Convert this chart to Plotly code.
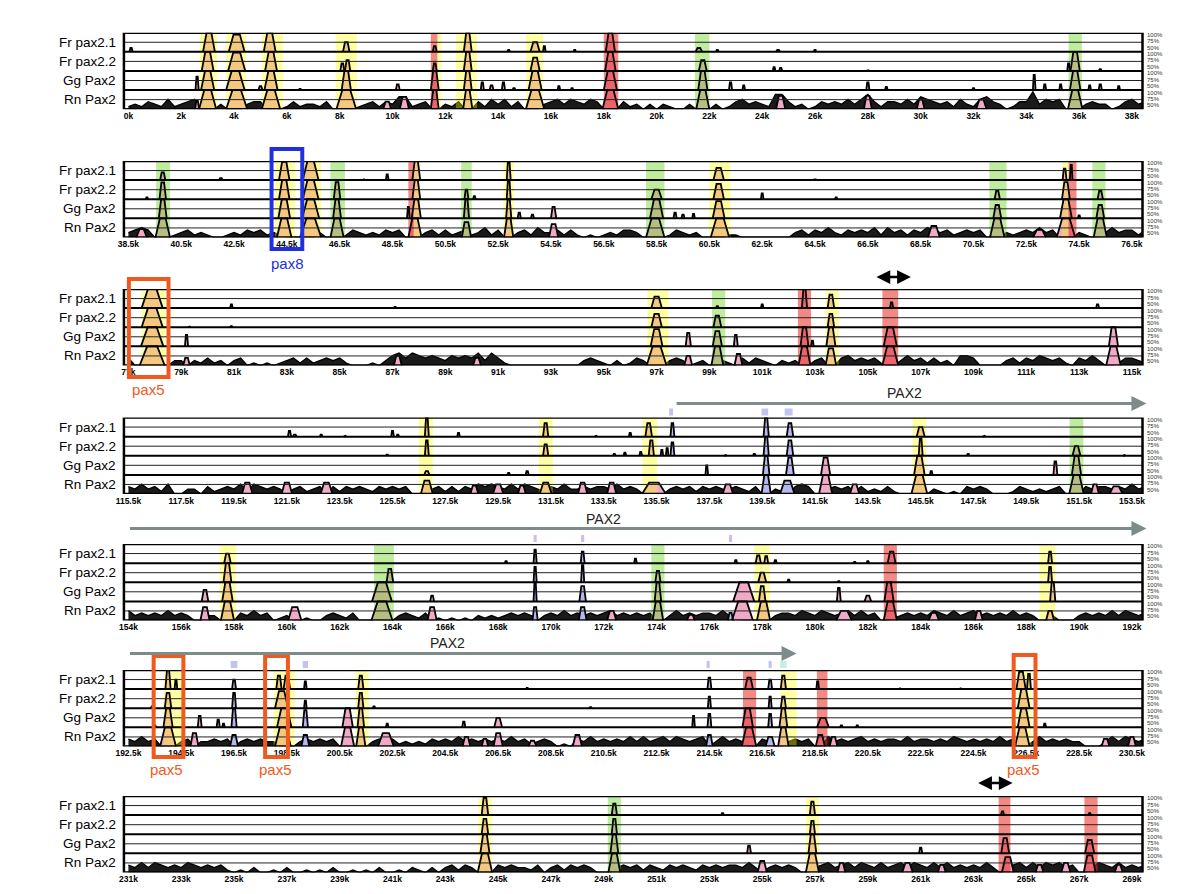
import plotly.graph_objects as go

W, H = 1200, 894

track_names = ["Fr pax2.1", "Fr pax2.2", "Gg Pax2", "Rn Pax2"]
panel_starts = [0, 38.5, 77, 115.5, 154, 192.5, 231]

# conserved peaks per track: (centre kb, width kb, height %)
fr21_1 = [(0.1, .12, 60), (3.05, .45, 100), (4.1, .6, 95), (5.35, .45, 100), (8.25, .25, 75), (11.6, .15, 65),
          (12.85, .3, 100), (14.4, .1, 55), (15.4, .35, 75), (15.75, .1, 65), (16.9, .1, 55), (18.25, .35, 100),
          (21.6, .25, 60), (22.3, .1, 55), (24.6, .15, 55), (26.0, .1, 55)]
fr22_1 = [(3.0, .45, 100), (4.1, .65, 98), (5.4, .45, 100), (8.1, .15, 70), (8.3, .2, 78), (11.6, .15, 70),
          (12.85, .3, 100), (15.4, .35, 85), (18.25, .4, 100), (21.75, .3, 78), (24.45, .1, 60), (24.7, .12, 58),
          (28.0, .1, 52), (35.6, .1, 70), (35.85, .35, 100), (36.8, .1, 55)]
gg_1 = [(2.6, .12, 85), (3.0, .5, 100), (4.05, .7, 100), (5.0, .15, 60), (5.4, .5, 100), (6.5, .1, 53),
        (8.25, .35, 100), (10.2, .15, 65), (11.6, .3, 100), (12.85, .3, 100), (13.4, .12, 70), (13.75, .15, 62),
        (14.2, .12, 70), (14.6, .12, 55), (15.4, .5, 100), (16.3, .1, 60), (16.8, .1, 55), (18.25, .5, 100),
        (21.75, .35, 100), (22.8, .12, 70), (23.3, .1, 62), (28.0, .12, 70), (28.7, .1, 58), (32.0, .1, 55),
        (34.3, .1, 90), (34.7, .1, 65), (35.3, .1, 65), (35.85, .4, 100), (36.4, .1, 62), (36.8, .12, 65),
        (37.5, .1, 60)]
rn_1 = [(2.6, .15, 72), (3.0, .65, 100), (4.1, .8, 100), (5.4, .7, 100), (8.25, .75, 100), (9.8, .3, 70),
        (10.45, .35, 82), (11.6, .3, 100), (12.85, .35, 100), (15.4, .7, 100), (18.25, .6, 100), (21.75, .5, 100),
        (24.7, .35, 85), (28.0, .3, 85), (30.0, .3, 75), (32.3, .4, 75), (35.85, .55, 100)]

fr21_2 = [(39.8, .2, 70), (42.0, .15, 55), (44.4, .4, 98), (45.4, .6, 100), (47.4, .1, 52), (48.3, .1, 65),
          (49.4, .3, 100), (52.9, .15, 100), (60.85, .4, 82), (64.5, .15, 52), (73.95, .15, 80), (74.2, .1, 90)]
fr22_2 = [(39.2, .1, 55), (39.8, .25, 94), (44.4, .4, 100), (45.4, .6, 100), (46.4, .25, 95), (49.4, .3, 100),
          (51.3, .15, 75), (51.6, .1, 58), (52.9, .15, 100), (58.5, .4, 75), (60.85, .4, 90), (62.5, .1, 65),
          (65.3, .1, 55), (71.4, .2, 72), (74.0, .3, 95), (75.3, .2, 72)]
gg_2 = [(39.8, .3, 100), (44.4, .45, 100), (45.4, .65, 100), (46.4, .3, 100), (49.1, .1, 80), (49.4, .35, 100),
        (51.3, .2, 100), (52.9, .2, 100), (53.3, .12, 65), (53.8, .12, 60), (54.6, .2, 80), (58.5, .5, 100),
        (59.2, .12, 65), (59.5, .12, 60), (59.9, .1, 62), (60.85, .45, 95), (71.4, .3, 85), (74.0, .45, 100),
        (74.5, .1, 58), (75.3, .3, 85)]
rn_2 = [(39.0, .4, 72), (39.8, .55, 100), (44.4, .55, 100), (45.4, .8, 100), (46.4, .5, 100), (49.35, .5, 100),
        (51.3, .35, 90), (52.9, .35, 100), (54.6, .35, 85), (58.45, .7, 100), (60.9, .7, 100), (69.0, .45, 80),
        (71.4, .55, 100), (73.0, .5, 70), (74.0, .7, 100), (75.3, .5, 100)]

fr21_3 = [(77.9, .8, 100), (80.9, .1, 60), (87.1, .1, 53), (97.0, .4, 80), (99.3, .1, 55), (101.0, .1, 60),
          (102.6, .2, 100), (103.6, .25, 85), (105.9, .12, 65), (113.7, .12, 60)]
fr22_3 = [(77.9, .8, 100), (79.3, .1, 52), (80.9, .1, 53), (97.0, .4, 85), (99.3, .3, 80), (103.6, .25, 85)]
gg_3 = [(77.9, .85, 100), (79.2, .12, 80), (97.0, .45, 95), (98.2, .2, 85), (99.3, .35, 90), (100.0, .15, 80),
        (102.6, .3, 100), (102.9, .1, 65), (103.6, .35, 100), (105.85, .5, 100), (114.3, .35, 100)]
rn_3 = [(77.9, .95, 100), (79.2, .25, 70), (87.2, .3, 75), (90.2, .3, 70), (97.0, .75, 100), (98.2, .3, 75),
        (99.3, .45, 100), (100.1, .3, 80), (102.6, .45, 100), (103.6, .4, 95), (105.85, .6, 100), (114.3, .55, 100)]

fr21_4 = [(121.6, .12, 65), (121.8, .15, 55), (122.8, .1, 55), (123.7, .1, 52), (125.5, .1, 65), (125.7, .1, 55),
          (126.8, .15, 100), (128.0, .1, 60), (131.3, .2, 85), (133.2, .1, 52), (134.5, .1, 60), (135.2, .25, 85),
          (136.1, .15, 85), (139.65, .2, 100), (140.55, .25, 85), (145.5, .3, 75), (147.9, .1, 52)]
fr22_4 = [(125.3, .1, 53), (126.8, .15, 90), (131.3, .2, 80), (133.9, .1, 55), (134.3, .1, 58), (134.9, .1, 60),
          (135.3, .2, 90), (135.7, .1, 65), (135.9, .1, 70), (136.1, .15, 85), (138.1, .1, 52), (139.2, .1, 55),
          (139.65, .2, 100), (140.55, .25, 90), (145.5, .15, 95), (147.3, .1, 55), (151.4, .3, 75), (153.2, .1, 52)]
gg_4 = [(126.8, .2, 60), (129.9, .1, 55), (130.6, .12, 60), (137.4, .1, 75), (139.65, .25, 100), (140.55, .3, 95),
        (141.9, .35, 95), (145.45, .4, 100), (145.9, .1, 60), (150.6, .15, 85), (151.4, .35, 100)]
rn_4 = [(120.0, .4, 80), (121.5, .4, 80), (123.0, .45, 80), (126.8, .45, 85), (128.6, .3, 72), (129.5, .4, 75),
        (130.4, .3, 72), (131.3, .45, 80), (132.7, .35, 80), (133.8, .35, 80), (135.4, .9, 80), (138.2, .4, 75),
        (139.65, .35, 100), (140.45, .55, 85), (141.9, .5, 100), (143.0, .35, 75), (145.45, .6, 100),
        (151.4, .55, 100), (152.1, .3, 75), (152.9, .5, 70)]

fr21_5 = [(157.75, .25, 75), (168.3, .1, 55), (169.4, .12, 85), (171.2, .15, 80), (173.2, .1, 62), (177.0, .1, 58),
          (177.85, .2, 70), (178.15, .15, 68), (178.5, .1, 58), (181.5, .1, 53), (182.0, .1, 55), (182.9, .3, 80),
          (188.9, .15, 80)]
fr22_5 = [(157.75, .3, 100), (163.9, .25, 85), (169.4, .12, 90), (171.2, .12, 95), (174.05, .2, 80), (178.0, .3, 75),
          (179.0, .1, 57), (180.9, .1, 53), (188.9, .15, 90)]
gg_5 = [(156.9, .25, 80), (157.75, .4, 100), (163.6, .75, 100), (165.5, .15, 65), (169.4, .12, 100), (171.2, .25, 90),
        (174.05, .25, 100), (177.3, .8, 100), (178.0, .25, 90), (180.9, .15, 85), (182.0, .25, 65), (182.8, .35, 100),
        (189.0, .2, 100)]
rn_5 = [(156.9, .35, 85), (157.75, .5, 100), (160.3, .5, 85), (163.6, .8, 100), (165.5, .35, 85), (169.4, .2, 85),
        (171.2, .3, 85), (172.3, .35, 75), (174.05, .4, 100), (175.3, .3, 65), (176.8, .2, 70), (177.25, .8, 100),
        (178.05, .5, 100), (181.1, .6, 75), (182.85, .5, 100), (184.5, .4, 70), (186.2, .3, 75), (188.9, .3, 75)]

fr21_6 = [(194.0, .2, 100), (194.3, .1, 75), (196.5, .15, 75), (198.2, .2, 85), (198.5, .25, 85), (199.2, .1, 70),
          (201.3, .2, 85), (207.6, .1, 53), (214.5, .15, 80), (216.0, .3, 80), (216.8, .15, 75), (217.3, .2, 85),
          (218.6, .1, 70), (221.7, .1, 52), (224.0, .1, 52), (226.3, .35, 95), (226.6, .15, 90)]
fr22_6 = [(193.4, .1, 55), (194.0, .25, 90), (196.5, .15, 90), (198.3, .5, 95), (199.2, .1, 70), (201.3, .2, 90),
          (201.8, .1, 55), (210.0, .1, 53), (214.5, .12, 80), (216.8, .12, 80), (217.3, .2, 80), (226.4, .45, 100)]
gg_6 = [(193.5, .1, 55), (194.0, .35, 100), (195.2, .15, 80), (195.9, .12, 70), (196.1, .1, 60), (196.5, .2, 100),
        (198.4, .55, 100), (199.2, .2, 95), (200.8, .4, 100), (201.3, .25, 100), (202.3, .1, 60), (205.2, .12, 65),
        (206.5, .3, 75), (213.9, .1, 80), (214.5, .15, 85), (215.95, .4, 100), (216.8, .15, 85), (217.3, .3, 100),
        (218.8, .45, 75), (219.5, .1, 55), (220.1, .1, 55), (226.4, .45, 100), (227.2, .1, 60)]
rn_6 = [(194.0, .6, 100), (195.0, .3, 85), (196.5, .3, 80), (198.35, .6, 100), (199.2, .3, 80), (200.8, .5, 100),
        (201.3, .35, 100), (202.25, .6, 85), (205.3, .3, 75), (206.0, .25, 70), (206.5, .35, 85), (207.8, .3, 65),
        (209.5, .35, 80), (214.5, .25, 80), (216.0, .55, 100), (216.8, .35, 75), (217.3, .4, 100), (218.7, .35, 80),
        (219.2, .3, 75), (226.35, .55, 100), (229.5, .3, 70), (230.5, .3, 75)]

fr21_7 = [(244.5, .25, 95), (249.4, .2, 80), (253.5, .1, 55), (256.9, .2, 85), (264.1, .12, 60), (267.4, .1, 55)]
fr22_7 = [(244.5, .25, 90), (249.4, .2, 90), (256.9, .2, 85)]
gg_7 = [(244.5, .35, 100), (249.4, .3, 100), (254.5, .15, 70), (256.9, .3, 100), (261.0, .12, 65), (264.2, .3, 90),
        (267.4, .35, 85)]
rn_7 = [(244.5, .55, 100), (249.4, .45, 100), (255.0, .35, 80), (256.9, .5, 100), (258.0, .3, 75), (260.5, .4, 75),
        (261.8, .3, 70), (264.3, .45, 90), (265.5, .3, 70), (266.5, .35, 75), (267.4, .45, 95), (268.5, .3, 70)]

# Rn Pax2 background profile, one digit per 0.25 kb from panel start (digit d -> 50 + 6.5*d %)
rn_noise = [
    "1213 2141 2340 0020 0023 3000 1312 2130 0001 2313 2551 2300 2130 0314 2413 0002 3424 3243 0003 1202 "
    "0210 0200 0201 3423 2166 3120 1323 2424 6313 3242 5432 3142 1453 2013 3724 3400 0232 2013 423",
    "2343 0001 2312 1001 2132 3121 0000 0200 0132 1213 2300 0231 3123 1241 3002 3142 2313 1010 1213 3200 "
    "0013 2120 0001 1000 0000 0231 3242 1323 2414 2313 2432 3123 2300 0212 3242 3000 2100 2423 313",
    "3000 0002 2021 3120 2301 0101 2313 1232 3100 0102 4535 4343 2434 3525 3100 0000 0000 0232 1020 1320 "
    "0023 2012 0021 0313 2102 1200 2300 3423 2310 0242 3131 2044 3000 0231 3243 2310 3242 0013 321",
    "3242 3140 0220 3123 2414 3232 0231 2303 1323 2132 3230 0023 1313 2434 3242 4321 3242 2323 3242 3200 "
    "0023 2313 2322 3213 0021 0343 0023 2313 1213 1000 0021 0103 2320 0013 2121 2300 0323 3232 423",
    "4232 3242 3200 2200 0324 2301 2001 0023 2130 0000 0232 1301 0101 0212 1232 3202 3242 3232 3423 2323 "
    "0024 2323 3242 1000 0023 3243 2432 3424 2300 1232 3243 2423 4232 3242 3200 2000 2323 2424 323",
    "3242 3000 2302 2323 0232 3220 0023 2323 0000 0232 3121 2132 3242 3232 3242 3123 2010 3242 3232 4242 "
    "3424 3234 0242 3200 3200 2323 0042 3234 2323 3242 3323 2432 3232 4230 0242 3232 2000 2424 323",
    "3242 4323 2432 3231 0102 0010 2001 0102 0010 1020 0102 1020 2313 2000 3232 2130 2313 2320 0023 2313 "
    "2132 3213 2323 3242 0232 3200 2342 3424 3242 3424 3242 4232 3242 0234 2424 3423 0024 3242 323",
]

# highlighted conserved elements: (from kb, to kb, colour key)
bands_1 = [(2.7, 3.35, "Y"), (3.7, 4.45, "Y"), (5.05, 5.85, "Y"), (7.85, 8.65, "Y"), (11.45, 11.7, "R"),
           (11.7, 11.85, "Y"), (12.4, 13.2, "Y"), (15.05, 15.7, "Y"), (18.0, 18.55, "R"), (21.45, 22.0, "G"),
           (35.6, 36.1, "G")]
bands_2 = [(39.55, 40.08, "G"), (44.05, 44.8, "Y"), (45.0, 45.8, "Y"), (46.15, 46.7, "G"), (49.1, 49.3, "R"),
           (49.3, 49.55, "Y"), (51.1, 51.5, "G"), (52.7, 53.1, "Y"), (58.1, 58.8, "G"), (60.5, 61.3, "Y"),
           (71.1, 71.75, "G"), (73.85, 74.1, "Y"), (74.1, 74.4, "R"), (75.0, 75.5, "G")]
bands_3 = [(77.5, 78.4, "Y"), (96.65, 97.45, "Y"), (99.1, 99.6, "G"), (102.35, 102.85, "R"), (103.4, 103.9, "Y"),
           (105.55, 106.15, "R")]
bands_4 = [(126.5, 127.03, "Y"), (131.04, 131.57, "Y"), (134.97, 135.53, "Y"), (145.2, 145.7, "Y"),
           (151.14, 151.66, "G")]
bands_5 = [(157.45, 158.07, "Y"), (163.3, 164.05, "G"), (173.8, 174.3, "G"), (177.7, 178.3, "Y"),
           (182.6, 183.1, "R"), (188.5, 189.1, "Y")]
bands_6 = [(193.83, 194.57, "Y"), (198.0, 198.8, "Y"), (201.1, 201.6, "Y"), (215.77, 216.27, "R"),
           (217.2, 217.8, "Y"), (218.57, 218.97, "R"), (226.15, 226.7, "Y")]
bands_7 = [(244.25, 244.75, "Y"), (249.15, 249.65, "G"), (256.65, 257.15, "Y"), (263.95, 264.4, "R"),
           (267.2, 267.7, "R")]

# exon marks above the panels: (centre kb, width kb, colour key)
exons_4 = [(136.05, .15, "L"), (139.6, .25, "L"), (140.5, .3, "L")]
exons_5 = [(169.4, .12, "L"), (171.2, .12, "L"), (176.8, .12, "L")]
exons_6 = [(196.5, .25, "L"), (199.2, .2, "L"), (214.45, .12, "L"), (216.8, .12, "L"), (217.3, .25, "C")]

panels = [
    ([fr21_1, fr22_1, gg_1, rn_1], bands_1, []),
    ([fr21_2, fr22_2, gg_2, rn_2], bands_2, []),
    ([fr21_3, fr22_3, gg_3, rn_3], bands_3, []),
    ([fr21_4, fr22_4, gg_4, rn_4], bands_4, exons_4),
    ([fr21_5, fr22_5, gg_5, rn_5], bands_5, exons_5),
    ([fr21_6, fr22_6, gg_6, rn_6], bands_6, exons_6),
    ([fr21_7, fr22_7, gg_7, rn_7], bands_7, []),
]

band_colors = {"Y": "rgba(255,255,0,0.36)", "G": "rgba(110,215,40,0.45)", "R": "rgba(235,40,30,0.55)"}
exon_colors = {"L": "#c3c3f3", "C": "#c6efe4"}
PINK = "#f0aac8"
LAV = "#b7b7ef"

PX_L, PX_R = 117, 1145
panel_tops = [32.7, 161, 289, 417.5, 544, 670, 796]
PANEL_H = 76.5

fig = go.Figure()
layout = {}
shapes = []
annotations = []


def px_y(v):
    return 1 - v / H


def text(txt, x, y, xref, yref, size, color, xanchor="center"):
    return dict(text=txt, x=x, y=y, xref=xref, yref=yref, xanchor=xanchor, yanchor="middle", showarrow=False,
                font=dict(family="Liberation Sans", size=size, color=color))


for p, start in enumerate(panel_starts):
    n = p + 1
    sfx = "" if n == 1 else str(n)
    xa, ya = "x" + sfx, "y" + sfx
    top = panel_tops[p]
    tickvals = [start + 2 * i for i in range(20)]
    layout["xaxis" + sfx] = dict(
        domain=[PX_L / W, PX_R / W], range=[start - 0.17, start + 38.4], anchor=ya,
        tickvals=tickvals, ticktext=[f"{v:g}k" for v in tickvals], ticks="",
        showgrid=False, zeroline=False, showline=False, fixedrange=True,
        tickfont=dict(family="Liberation Sans", size=8.5, color="#000", weight="bold"))
    layout["yaxis" + sfx] = dict(
        domain=[px_y(top + PANEL_H), px_y(top)], range=[0, 4], anchor=xa, visible=False, fixedrange=True)

    tracks, bands, exons = panels[p]

    # Rn Pax2 background noise
    levels = rn_noise[p].replace(" ", "")
    fig.add_trace(go.Scatter(x=[start + 0.25 * i for i in range(len(levels))], y=[int(d) * 0.13 for d in levels],
                             xaxis=xa, yaxis=ya, mode="lines", fill="tozeroy", fillcolor="#1a1a1a",
                             line=dict(color="black", width=1.3), hoverinfo="skip"))

    pink_x, pink_y, lav_x, lav_y, ln_x, ln_y = [], [], [], [], [], []
    for t, peaks in enumerate(tracks):
        base = 3 - t
        for c, w, h in peaks:
            hy = base + (h - 50) / 50
            l, r = c - w / 2, c + w / 2
            xs = [l, l + 0.3 * w, r - 0.3 * w, r, None]
            ys = [base, hy, hy, base, None]
            is_exon = any(abs(c - e) <= ew / 2 + 0.1 for e, ew, k in exons if k == "L")
            if is_exon:
                lav_x += xs
                lav_y += ys
            else:
                pink_x += xs
                pink_y += ys
            ln_x += xs
            ln_y += ys

    for fx, fy, col in [(pink_x, pink_y, PINK), (lav_x, lav_y, LAV)]:
        if fx:
            fig.add_trace(go.Scatter(x=fx, y=fy, xaxis=xa, yaxis=ya, mode="lines", fill="toself",
                                     fillcolor=col, line=dict(width=0), hoverinfo="skip"))

    for key, col in band_colors.items():
        bx, by = [], []
        for a, b, k in bands:
            if k == key:
                bx += [a, b, b, a, a, None]
                by += [0, 0, 4, 4, 0, None]
        if bx:
            fig.add_trace(go.Scatter(x=bx, y=by, xaxis=xa, yaxis=ya, mode="lines", fill="toself",
                                     fillcolor=col, line=dict(width=0), hoverinfo="skip"))

    fig.add_trace(go.Scatter(x=ln_x, y=ln_y, xaxis=xa, yaxis=ya, mode="lines",
                             line=dict(color="black", width=1.8), hoverinfo="skip"))

    # frame and track lines
    for k in range(1, 4):
        shapes.append(dict(type="line", xref="paper", yref=ya, x0=PX_L / W, x1=PX_R / W, y0=k, y1=k,
                           line=dict(color="black", width=2), layer="above"))
    for k in range(4):
        shapes.append(dict(type="line", xref="paper", yref=ya, x0=PX_L / W, x1=PX_R / W, y0=k + 0.5, y1=k + 0.5,
                           line=dict(color="#222", width=1), layer="above"))
    shapes.append(dict(type="rect", xref="paper", yref=ya, x0=PX_L / W, x1=PX_R / W, y0=0, y1=4,
                       line=dict(color="black", width=2.5), layer="above"))

    for e, ew, k in exons:
        shapes.append(dict(type="rect", xref=xa, yref="paper", x0=e - ew / 2, x1=e + ew / 2,
                           y0=px_y(top - 2), y1=px_y(top - 9), fillcolor=exon_colors[k], line=dict(width=0)))

    for t, name in enumerate(track_names):
        annotations.append(text(name, 111 / W, 3.5 - t, "paper", ya, 13.5, "black", xanchor="right"))
        for lab, off in [("100%", 0.87), ("75%", 0.55), ("50%", 0.21)]:
            annotations.append(text(lab, 1148 / W, 3 - t + off, "paper", ya, 6, "#333", xanchor="left"))

# gene arrows (PAX2)
pax2_arrows = [(4, 136.2, 154.05, 403.5, 144.9, 393), (5, 154.0, 192.55, 528.5, 172.0, 519),
               (6, 192.5, 217.8, 653.5, 204.6, 643)]
for n, a, b, ypx, tx, typx in pax2_arrows:
    annotations.append(dict(x=b, y=px_y(ypx), xref=f"x{n}", yref="paper", ax=a, ay=0, axref=f"x{n}",
                            ayref="pixel", text="", showarrow=True, arrowhead=2, arrowsize=1, arrowwidth=3,
                            arrowcolor="#7d8b8b"))
    annotations.append(text("PAX2", tx, px_y(typx), f"x{n}", "paper", 14, "#222"))

# double-headed arrows
for n, c, ypx in [(3, 105.95, 277), (7, 263.8, 783)]:
    annotations.append(dict(x=c + 0.68, y=px_y(ypx), xref=f"x{n}", yref="paper", ax=c - 0.68, ay=0,
                            axref=f"x{n}", ayref="pixel", text="", showarrow=True, arrowhead=2,
                            arrowside="end+start", arrowsize=1.1, arrowwidth=2.5, arrowcolor="black"))

# pax8 / pax5 boxes (pixel positions)
BLUE = "#2030e0"
ORANGE = "#f05a1e"
boxes = [(266, 297, 149, 249, BLUE), (122, 162, 279, 377, ORANGE), (147, 177, 656, 757, ORANGE),
         (259.5, 282.5, 656, 757, ORANGE), (1015, 1037, 655, 757, ORANGE)]
for x0, x1, y0, y1, col in boxes:
    shapes.append(dict(type="rect", xref="paper", yref="paper", x0=x0 / W, x1=x1 / W, y0=px_y(y1), y1=px_y(y0),
                       line=dict(color=col, width=4), layer="above"))
box_labels = [("pax8", 282, 263, BLUE), ("pax5", 142, 389, ORANGE), ("pax5", 160, 769, ORANGE),
              ("pax5", 270, 769, ORANGE), ("pax5", 1025, 769, ORANGE)]
for txt, x, y, col in box_labels:
    annotations.append(text(txt, x / W, px_y(y), "paper", "paper", 15, col))

fig.update_layout(
    width=W, height=H, margin=dict(l=0, r=0, t=0, b=0),
    paper_bgcolor="white", plot_bgcolor="white", showlegend=False,
    shapes=shapes, annotations=annotations, **layout)

fig.write_html("out.html", config={"displayModeBar": False},
               post_script="document.body.style.margin='0px';")
